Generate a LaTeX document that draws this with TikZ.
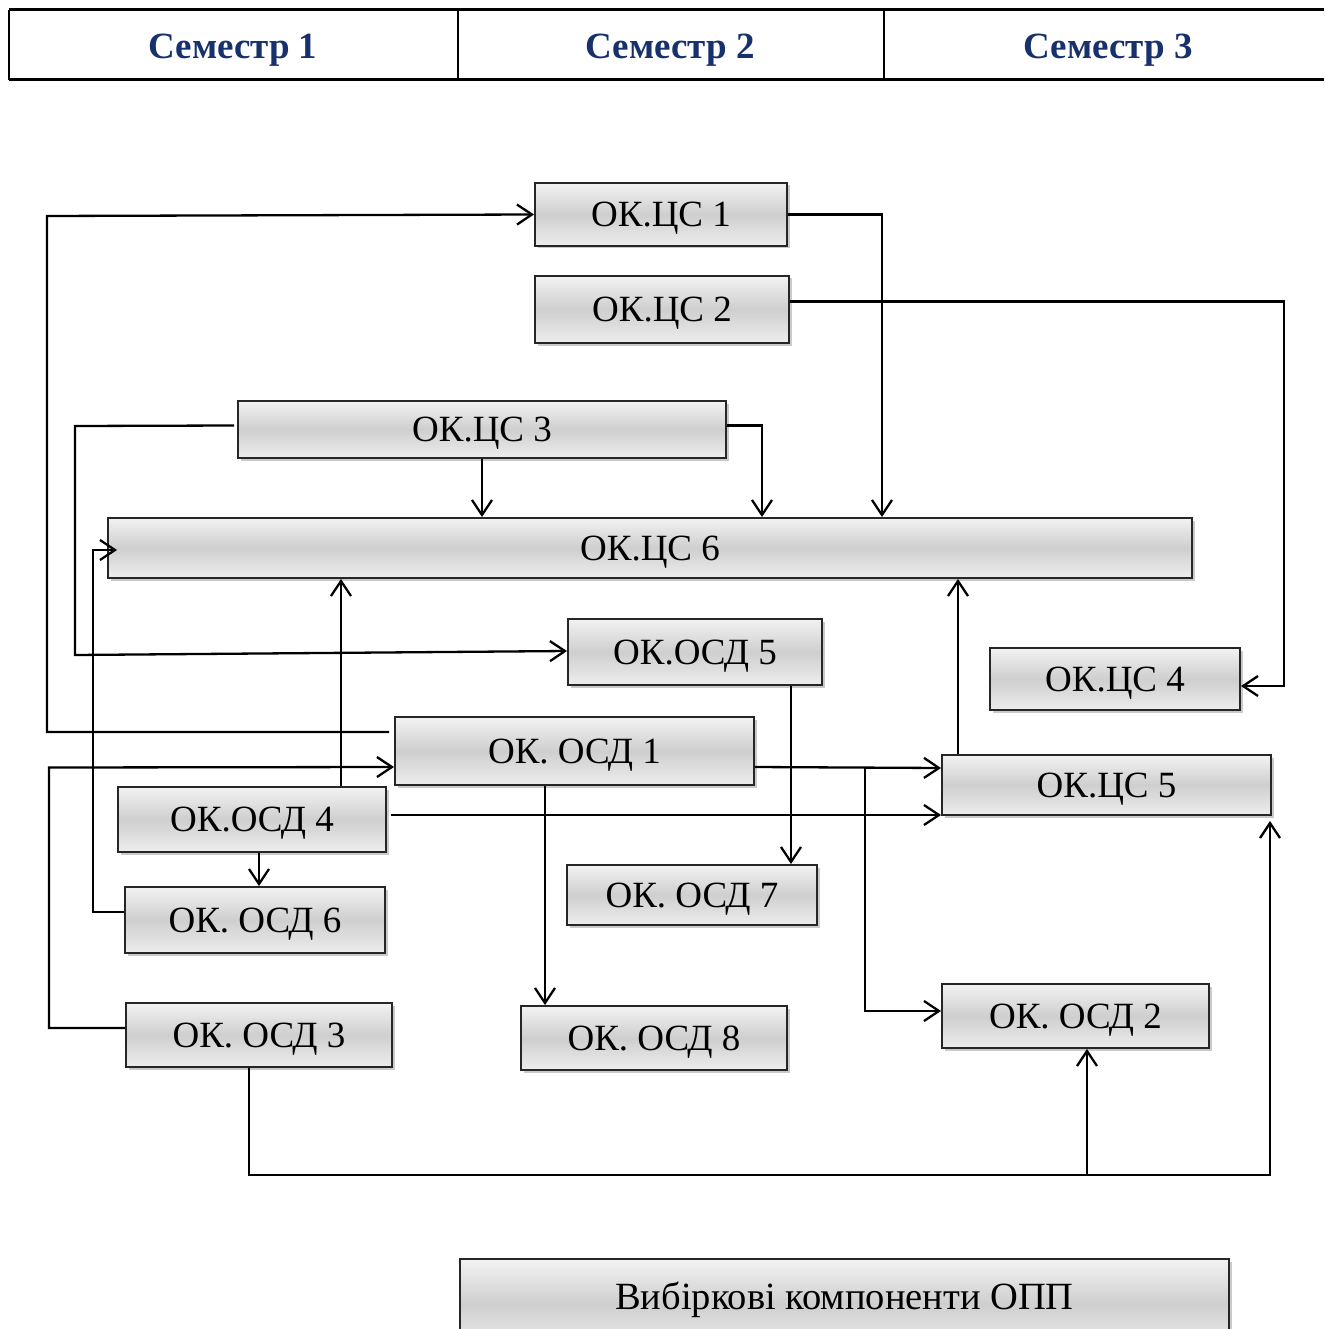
\documentclass[tikz,border=0pt]{standalone}
\usepackage{fontspec}
\setmainfont{Liberation Serif}
\usetikzlibrary{arrows.meta,shadows}
\definecolor{headblue}{HTML}{17316C}
\tikzset{
  box/.style={draw=black!85, line width=1.9pt, inner sep=0pt,
    top color=gray!10, bottom color=gray!14, middle color=gray!38,
    drop shadow={shadow xshift=2.5pt, shadow yshift=-2.5pt, opacity=0.35, fill=black!60},
    font=\fontsize{37}{40}\selectfont, text height=24.5pt, text depth=0pt},
  head/.style={font=\fontsize{37}{40}\selectfont\bfseries, text=headblue, inner sep=0pt,
    text height=25pt, text depth=0pt},
  conn/.style={line width=2.3pt, line join=miter},
  arr/.style={conn, -{Straight Barb[length=15pt,width=20pt,line width=2.3pt]}},
}
\begin{document}
\begin{tikzpicture}[x=1pt,y=-1pt]
\useasboundingbox (0,0) rectangle (1324,1329);
% header table
\draw[line width=3pt] (9,10) -- (1324,10);
\draw[line width=3pt] (9,80) -- (1324,80);
\draw[line width=2pt] (9,10) -- (9,80);
\draw[line width=2pt] (458,10) -- (458,80);
\draw[line width=2pt] (884,10) -- (884,80);
\node[head] (s1) at (233,46) {Семестр 1};
\node[head] (s2) at (670,46) {Семестр 2};
\node[head] (s3) at (1108,46) {Семестр 3};
% boxes
\node[box, minimum width=252, minimum height=63] (c1) at (661,214.5) {ОК.ЦС 1};
\node[box, minimum width=254, minimum height=67] (c2) at (662,309.5) {ОК.ЦС 2};
\node[box, minimum width=488, minimum height=57] (c3) at (482,429.5) {ОК.ЦС 3};
\node[box, minimum width=1084, minimum height=60] (c6) at (650,548) {ОК.ЦС 6};
\node[box, minimum width=254, minimum height=66] (o5) at (695,652) {ОК.ОСД 5};
\node[box, minimum width=250, minimum height=62] (c4) at (1115,679) {ОК.ЦС 4};
\node[box, minimum width=359, minimum height=68] (o1) at (574.5,751) {ОК. ОСД 1};
\node[box, minimum width=329, minimum height=60] (c5) at (1106.5,785) {ОК.ЦС 5};
\node[box, minimum width=268, minimum height=65] (o4) at (252,819.5) {ОК.ОСД 4};
\node[box, minimum width=260, minimum height=66] (o6) at (255,920) {ОК. ОСД 6};
\node[box, minimum width=250, minimum height=60] (o7) at (692,895) {ОК. ОСД 7};
\node[box, minimum width=266, minimum height=64] (o3) at (259,1035) {ОК. ОСД 3};
\node[box, minimum width=266, minimum height=64] (o8) at (654,1038) {ОК. ОСД 8};
\node[box, minimum width=267, minimum height=64] (o2) at (1075.5,1016) {ОК. ОСД 2};
\node[box, minimum width=769, minimum height=90, font=\fontsize{38.5}{42}\selectfont, text height=10pt, text depth=0pt] (vb) at (844.5,1304) {Вибіркові компоненти ОПП};
% connectors
\draw[arr] ([xshift=-5pt,yshift=19pt]o1.west) -- (47,732) -- (47,216) -- (c1.west);
\draw[arr] (c1.east) -| ([xshift=232pt]c6.north);
\draw[arr] ([yshift=8pt]c2.east) -- (1284,301.5) -- (1284,686) -- ([yshift=-7pt]c4.east);
\draw[arr] ([xshift=-3pt,yshift=4pt]c3.west) -- (75,426) -- (75,655) -- ([yshift=1pt]o5.west);
\draw[arr] (c3.south) -- (c3.south |- c6.north);
\draw[arr] ([yshift=4pt]c3.east) -| ([xshift=112pt]c6.north);
\draw[arr] ([yshift=8pt]o6.west) -- (93,912) -- (93,550) -- ([xshift=10pt,yshift=-2pt]c6.west);
\draw[arr] ([xshift=89pt]o4.north) -- ([xshift=89pt]o4.north |- c6.south);
\draw[arr] ([xshift=-148.5pt]c5.north) -- ([xshift=-148.5pt]c5.north |- c6.south);
\draw[arr] ([xshift=96pt]o5.south) -- ([xshift=96pt]o5.south |- o7.north);
\draw[arr] ([yshift=-16pt]o1.east) -- ([yshift=17pt]c5.west);
\coordinate (j1) at (865,767.5);
\draw[arr] (j1) -- (865,1011) -- ([yshift=5pt]o2.west);
\draw[arr] ([xshift=4pt,yshift=4.5pt]o4.east) -- ([yshift=-30pt]c5.west);
\draw[arr] ([xshift=-29.5pt]o1.south) -- ([xshift=-29.5pt]o1.south |- o8.north);
\draw[arr] ([xshift=7pt]o4.south) -- ([xshift=7pt]o4.south |- o6.north);
\draw[arr] ([yshift=7pt]o3.west) -- (49,1028) -- (49,767.5) -- ([yshift=-16pt]o1.west);
\draw[arr] ([xshift=-10pt]o3.south) -- (249,1175) -- (1270,1175) -- ([xshift=163.5pt,yshift=-5pt]c5.south);
\coordinate (j2) at (1087,1175);
\draw[arr] (j2) -- ([xshift=11.5pt]o2.south);
\end{tikzpicture}
\end{document}
